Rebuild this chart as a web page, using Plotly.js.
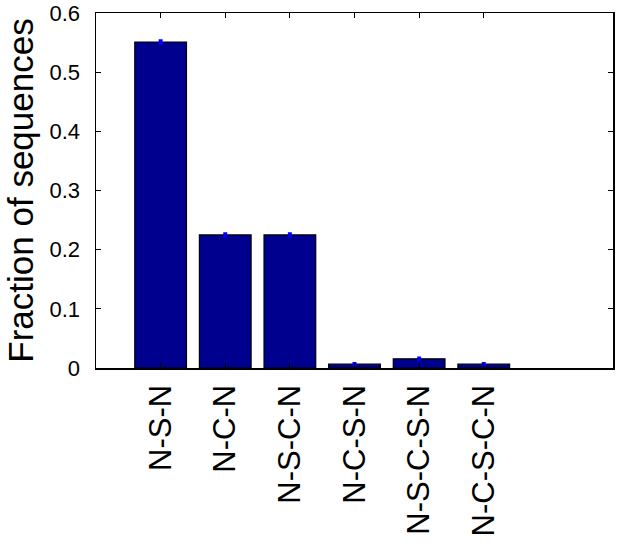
<!DOCTYPE html>
<html>
<head>
<meta charset="utf-8">
<script src="https://cdn.plot.ly/plotly-3.0.1.min.js"></script>
<style>
  body { margin: 0; background: #fff; }
  #chart { width: 617px; height: 548px; }
</style>
</head>
<body>
<div id="chart"></div>
<script>
var motifs = ['N-S-N', 'N-C-N', 'N-S-C-N', 'N-C-S-N', 'N-S-C-S-N', 'N-C-S-C-N'];
var fractions = [0.551, 0.225, 0.225, 0.0065, 0.0155, 0.0065];
var errors = [0.002, 0.002, 0.002, 0.001, 0.0015, 0.001];
var yTicks = [0, 0.1, 0.2, 0.3, 0.4, 0.5, 0.6];

var trace = {
  x: motifs,
  y: fractions,
  type: 'bar',
  marker: { color: '#00008f', line: { color: '#000000', width: 1.2 } },
  error_y: { type: 'data', array: errors, color: '#0000ff', thickness: 3, width: 2 },
  hoverinfo: 'skip'
};

var layout = {
  width: 617,
  height: 548,
  margin: { l: 96, r: 4, t: 13, b: 180 },
  paper_bgcolor: '#ffffff',
  plot_bgcolor: '#ffffff',
  showlegend: false,
  bargap: 0.2,
  font: { family: 'Liberation Sans, Arial, sans-serif', color: '#000000' },
  xaxis: {
    type: 'category',
    range: [-1, 7],
    showline: true, linecolor: '#000000', linewidth: 1.5, mirror: 'ticks',
    ticks: 'inside', ticklen: 5, tickcolor: '#000000',
    tickangle: -90,
    tickfont: { size: 31 },
    ticklabelstandoff: 3,
    ticklabeloverflow: 'allow',
    showgrid: false, zeroline: false
  },
  yaxis: {
    range: [0, 0.6],
    tickvals: yTicks,
    ticktext: yTicks.map(String),
    showline: true, linecolor: '#000000', linewidth: 1.5, mirror: 'ticks',
    ticks: 'inside', ticklen: 5, tickcolor: '#000000',
    tickfont: { size: 22 },
    ticklabelstandoff: 10,
    ticklabeloverflow: 'allow',
    showgrid: false, zeroline: false,
    title: { text: 'Fraction of sequences', font: { size: 35 }, standoff: 5 }
  }
};

Plotly.newPlot('chart', [trace], layout, { displayModeBar: false, staticPlot: true });
</script>
</body>
</html>
